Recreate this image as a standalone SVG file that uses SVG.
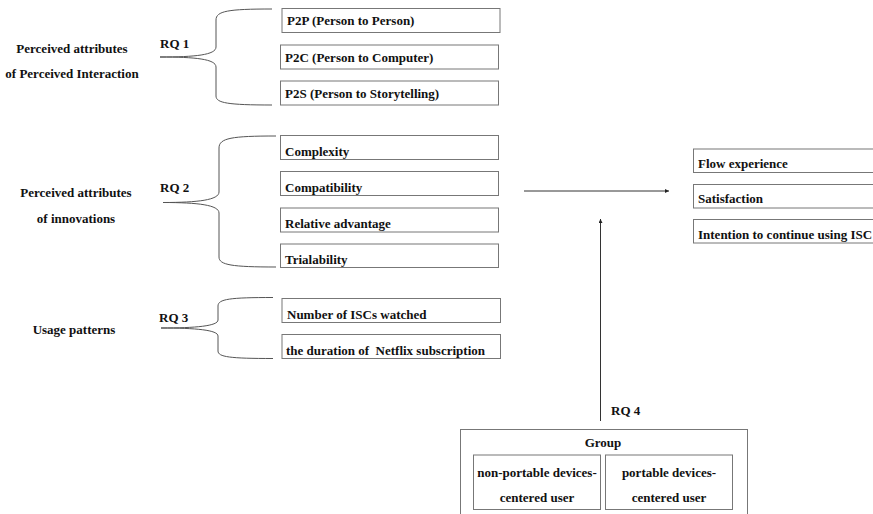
<svg xmlns="http://www.w3.org/2000/svg" width="873" height="514" viewBox="0 0 873 514">
<defs>
<style>
text{font-family:"Liberation Serif","Times New Roman",serif;font-weight:bold;font-size:13px;fill:#111}
.c{text-anchor:middle}
.box{fill:#fff;stroke:#777;stroke-width:1}
.brace{fill:none;stroke:#555;stroke-width:1}
.line{fill:none;stroke:#333;stroke-width:1}
</style>
<marker id="ah" viewBox="0 0 4 4" refX="4" refY="2" markerWidth="4" markerHeight="4" orient="auto" markerUnits="userSpaceOnUse">
<path d="M0,0 L4,2 L0,4 z" fill="#222"/>
</marker>
</defs>
<rect width="873" height="514" fill="#fff"/>

<g id="rq1-label">
<text class="c" x="72" y="53">Perceived attributes</text>
<text class="c" x="72" y="78">of Perceived Interaction</text>
<text x="160" y="48">RQ 1</text>
</g>
<g id="p2p"><rect class="box" x="282" y="8.5" width="218" height="24"/><text x="287" y="25">P2P (Person to Person)</text></g>
<g id="p2c"><rect class="box" x="280.5" y="45" width="218" height="24"/><text x="285" y="61.5">P2C (Person to Computer)</text></g>
<g id="p2s"><rect class="box" x="280.5" y="81" width="218" height="24"/><text x="285" y="97.5">P2S (Person to Storytelling)</text></g>

<g id="rq2-label">
<text class="c" x="76" y="197">Perceived attributes</text>
<text class="c" x="76" y="223">of innovations</text>
<text x="160" y="192">RQ 2</text>
</g>
<g id="complexity"><rect class="box" x="280.5" y="135.5" width="218" height="24"/><text x="285" y="156">Complexity</text></g>
<g id="compatibility"><rect class="box" x="280.5" y="171.5" width="218" height="24"/><text x="285" y="192">Compatibility</text></g>
<g id="relative"><rect class="box" x="280.5" y="208" width="218" height="24"/><text x="285" y="228">Relative advantage</text></g>
<g id="trialability"><rect class="box" x="280.5" y="244" width="218" height="23.5"/><text x="285" y="264">Trialability</text></g>

<g id="rq3-label">
<text class="c" x="74" y="334">Usage patterns</text>
<text x="159" y="322">RQ 3</text>
</g>
<g id="iscs"><rect class="box" x="282" y="298.5" width="218.5" height="24"/><text x="287" y="318.5">Number of ISCs watched</text></g>
<g id="duration"><rect class="box" x="282" y="334.5" width="218.5" height="24"/><text x="286" y="355" xml:space="preserve">the duration of  Netflix subscription</text></g>

<g id="flow"><rect class="box" x="693.5" y="149" width="190" height="23.5"/><text x="698" y="168">Flow experience</text></g>
<g id="satisfaction"><rect class="box" x="693.5" y="184.5" width="190" height="23.5"/><text x="698" y="203">Satisfaction</text></g>
<g id="intention"><rect class="box" x="693.5" y="219.5" width="190" height="23.5"/><text x="698" y="238.5">Intention to continue using ISC</text></g>

<g id="group">
<rect class="box" x="460.5" y="429.5" width="287" height="100"/>
<text class="c" x="603" y="447">Group</text>
<text x="611" y="415">RQ 4</text>
</g>
<g id="nonportable"><rect class="box" x="473.5" y="455" width="127" height="54.5"/><text class="c" x="537" y="477">non-portable devices-</text><text class="c" x="537" y="502">centered user</text></g>
<g id="portable"><rect class="box" x="605.5" y="455" width="127" height="54.5"/><text class="c" x="669" y="477">portable devices-</text><text class="c" x="669" y="502">centered user</text></g>

<g id="connectors">
<path class="brace" d="M272,9 C228,9 216,11 216,20 L216,47 C216,55 195,57 160,57 C195,57 216,59 216,67 L216,96 C216,103 228,105 272,105"/>
<path class="brace" d="M276,136 C232,136 219,138 219,148 L219,192 C219,200 198,202.5 163,202.5 C198,202.5 219,205 219,213 L219,257 C219,265 232,267 276,267"/>
<path class="brace" d="M273,297.5 C230,297.5 218,299 218,306 L218,320 C218,326 196,328 161,328 C196,328 218,330 218,336 L218,351 C218,357 230,358.5 273,358.5"/>
<line class="line" x1="524" y1="191" x2="669" y2="191" marker-end="url(#ah)"/>
<line class="line" x1="600.5" y1="421" x2="600.5" y2="219" marker-end="url(#ah)"/>
</g>
</svg>
